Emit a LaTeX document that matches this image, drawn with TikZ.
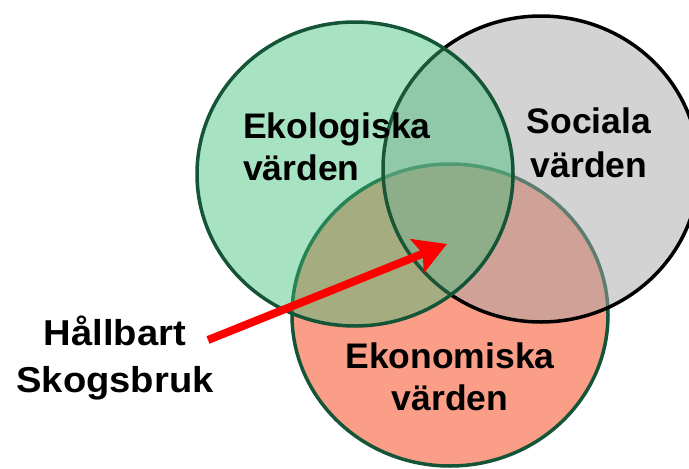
\documentclass[tikz,border=0pt]{standalone}
\usepackage{fontspec}
\setmainfont{Liberation Sans}
\usetikzlibrary{arrows.meta}
\definecolor{ekofill}{RGB}{60,190,120}
\definecolor{ekoline}{RGB}{20,85,55}
\definecolor{socfill}{RGB}{167,167,167}
\definecolor{ekonfill}{RGB}{250,158,135}
\definecolor{arrowred}{RGB}{255,0,0}
\tikzset{
  lbl/.style={font=\bfseries\fontsize{35.5}{42}\selectfont, inner sep=0pt, text=black},
  biglbl/.style={font=\bfseries\fontsize{36}{42}\selectfont, inner sep=0pt, text=black, xscale=1.06},
  ring/.style={line width=3.5pt},
}
\begin{document}
\begin{tikzpicture}[x=1pt,y=-1pt]
\useasboundingbox (0,0) rectangle (689,469);
\clip (0,0) rectangle (689,469);
% Ekonomiska (bottom)
\fill[ekonfill] (450,315) ellipse [x radius=158, y radius=151];
\draw[ring, ekoline] (450,315) ellipse [x radius=158, y radius=151];
% Sociala (middle)
\fill[socfill, fill opacity=0.5] (541,169) ellipse [x radius=158, y radius=153];
\draw[ring, black] (541,169) ellipse [x radius=158, y radius=153];
% Ekologiska (top)
\fill[ekofill, fill opacity=0.45] (355,174) ellipse [x radius=158, y radius=152];
\draw[ring, ekoline] (355,174) ellipse [x radius=158, y radius=152];
% labels
\node[lbl, anchor=base west] (eko1) at (243,138) {Ekologiska};
\node[lbl, anchor=base west] (eko2) at (243,180) {värden};
\node[lbl, anchor=base] (soc1) at (589,133) {Sociala};
\node[lbl, anchor=base] (soc2) at (589,177) {värden};
\node[lbl, anchor=base] (ekon1) at (450,368) {Ekonomiska};
\node[lbl, anchor=base] (ekon2) at (450,410) {värden};
\node[biglbl, anchor=base] (hb1) at (115,345) {Hållbart};
\node[biglbl, anchor=base] (hb2) at (115,392) {Skogsbruk};
% arrow
\coordinate (astart) at (208,340);
\coordinate (acenter) at (447,244);
\draw[arrowred, line width=8pt, -{Stealth[length=32pt,width=36pt,inset=6pt]}] (astart) -- (acenter);
\end{tikzpicture}
\end{document}
